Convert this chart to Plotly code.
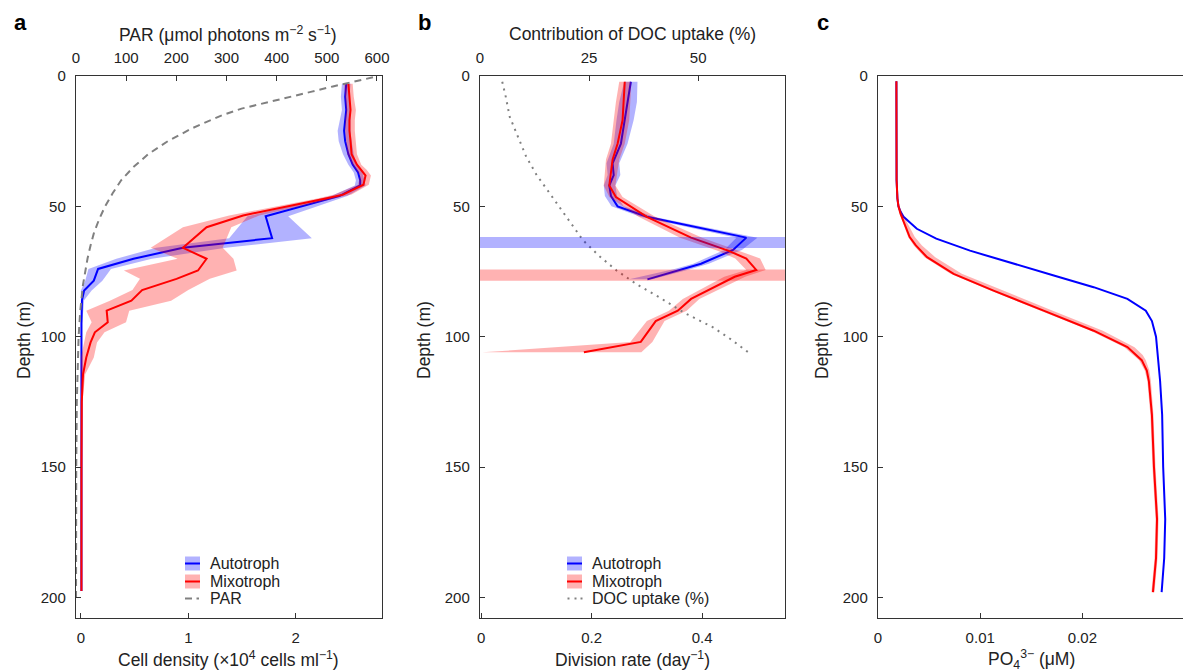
import plotly.graph_objects as go

W, H = 1183, 672
FONT = "Liberation Sans"
TXT = "#222222"
AX = "#333333"
BLUE = "rgb(0,0,255)"
RED = "rgb(255,0,0)"
BLUE_BAND = "rgba(0,0,255,0.30)"
RED_BAND = "rgba(255,0,0,0.30)"
GRAY = "#808080"

# ---------------- Panel a: cell density and PAR ----------------
depth_a_auto = [3, 8, 13, 17, 21, 25, 30, 34, 37, 40, 42, 46, 53.8, 62.2, 65.9, 70.1, 74, 78.5,
                82.3, 86, 95, 110, 130, 150, 170, 190, 197.5]
cell_auto = [2.47, 2.46, 2.47, 2.46, 2.45, 2.46, 2.49, 2.53, 2.58, 2.60, 2.60, 2.41, 1.72, 1.78,
             0.95, 0.49, 0.16, 0.12, 0.03, 0.01, 0.005, 0.005, 0.005, 0.005, 0.005, 0.005, 0.005]
cell_auto_lo = [2.43, 2.42, 2.43, 2.41, 2.39, 2.40, 2.44, 2.49, 2.54, 2.56, 2.55, 2.33, 1.55, 1.38,
                0.70, 0.33, 0.07, 0.04, 0.0, 0.0, 0, 0, 0, 0, 0, 0, 0]
cell_auto_hi = [2.51, 2.50, 2.51, 2.51, 2.51, 2.52, 2.54, 2.57, 2.62, 2.64, 2.65, 2.48, 1.93, 2.15,
                1.35, 0.66, 0.28, 0.20, 0.10, 0.03, 0.012, 0.01, 0.01, 0.01, 0.01, 0.01, 0.01]

depth_a_mixo = [3, 8, 13, 17, 21, 25, 30, 34, 36, 38.2, 41.7, 45.5, 47, 53.5, 58, 65.9, 70.1, 74.6,
                77.8, 82.1, 86.2, 90, 94.5, 98.3, 102.2, 108, 114.4, 125, 150, 175, 197.5]
cell_mixo = [2.49, 2.50, 2.51, 2.50, 2.50, 2.51, 2.52, 2.57, 2.61, 2.65, 2.63, 2.44, 2.28, 1.51, 1.17,
             0.95, 1.17, 1.09, 0.89, 0.57, 0.47, 0.24, 0.25, 0.13, 0.09, 0.05, 0.02, 0.008, 0.005,
             0.005, 0.005]
cell_mixo_lo = [2.45, 2.46, 2.47, 2.46, 2.46, 2.47, 2.48, 2.53, 2.56, 2.60, 2.58, 2.36, 2.20, 1.38,
                0.95, 0.65, 0.90, 0.40, 0.55, 0.48, 0.27, 0.05, 0.10, 0.05, 0.03, 0.0, 0.0, 0.0,
                0.0, 0.0, 0.0]
cell_mixo_hi = [2.53, 2.54, 2.56, 2.55, 2.55, 2.56, 2.57, 2.61, 2.66, 2.70, 2.68, 2.52, 2.36, 1.66,
                1.40, 1.32, 1.42, 1.45, 1.20, 1.00, 0.84, 0.45, 0.42, 0.22, 0.15, 0.12, 0.04, 0.015,
                0.01, 0.01, 0.01]

depth_par = [0.5, 2, 4, 6, 8, 10, 12.5, 15, 17.5, 20, 25, 30, 35, 40, 45, 50, 55, 60, 65, 70, 80,
             90, 100, 110, 125, 150, 175, 200]
par = [592, 555, 512, 470, 428, 380, 330, 292, 262, 232, 183, 144, 114, 90, 73, 58, 46, 36, 29, 23,
       14, 8.5, 5.2, 3.2, 1.6, 0.5, 0.2, 0.05]

# ---------------- Panel b: division rate and DOC uptake ----------------
depth_b_auto = [2.2, 10, 17, 26, 33.5, 38, 42, 46, 50, 54, 62, 66.7, 72, 74, 78]
div_auto = [0.271, 0.265, 0.259, 0.253, 0.238, 0.240, 0.232, 0.235, 0.247, 0.300, 0.480, 0.456,
            0.398, 0.365, 0.301]
div_auto_lo = [0.259, 0.250, 0.245, 0.240, 0.227, 0.229, 0.222, 0.224, 0.236, 0.288, 0.462, 0.440,
               0.384, 0.350, 0.268]
div_auto_hi = [0.283, 0.282, 0.276, 0.265, 0.250, 0.252, 0.243, 0.246, 0.258, 0.312, 0.500, 0.472,
               0.412, 0.380, 0.310]

depth_b_mixo = [2.2, 10, 17, 26, 32, 42, 46.4, 54, 62, 67, 70, 74.4, 77, 85.5, 90, 94, 102, 106]
div_mixo = [0.260, 0.258, 0.256, 0.247, 0.238, 0.232, 0.244, 0.300, 0.380, 0.447, 0.480, 0.498,
            0.459, 0.380, 0.356, 0.316, 0.289, 0.186]
div_mixo_lo = [0.250, 0.244, 0.240, 0.235, 0.226, 0.222, 0.232, 0.285, 0.360, 0.428, 0.460, 0.480,
               0.440, 0.365, 0.340, 0.300, 0.270, 0.002]
div_mixo_hi = [0.272, 0.270, 0.268, 0.260, 0.250, 0.243, 0.256, 0.315, 0.400, 0.466, 0.505, 0.515,
               0.478, 0.395, 0.372, 0.332, 0.310, 0.290]

depth_doc = [2.2, 7.9, 15.6, 23.3, 31, 38, 45, 54, 63, 69, 74.6, 80, 85, 91, 96.4, 101, 106]
doc_uptake = [5.1, 5.9, 6.8, 8.7, 10.6, 13.0, 16.0, 19.8, 23.6, 27.3, 31.3, 36.0, 41.2, 47.0,
              53.4, 57.5, 61.5]

peak_band_auto = [61.8, 66.0]
peak_band_mixo = [74.2, 78.5]

# ---------------- Panel c: phosphate ----------------
depth_c_auto = [2, 20, 40, 47, 50, 52, 54, 58.6, 62.4, 67, 71.4, 76.5, 81, 85.5, 90, 94, 100, 104,
                117, 130, 150, 170, 185, 198]
po4_auto = [0.0018, 0.0018, 0.00182, 0.0019, 0.0020, 0.0022, 0.0025, 0.0038, 0.0057, 0.0090,
            0.0129, 0.0172, 0.0211, 0.0244, 0.0262, 0.0268, 0.0272, 0.0273, 0.0276, 0.0278,
            0.0279, 0.0281, 0.0280, 0.02775]

depth_c_mixo = [2, 20, 40, 47, 50, 52.8, 57, 61.8, 65, 69.5, 75.9, 82.3, 90, 97.7, 104, 107, 109,
                113, 117, 130, 150, 170, 185, 198]
po4_mixo = [0.0018, 0.0018, 0.00182, 0.0019, 0.0020, 0.0022, 0.0026, 0.0031, 0.0037, 0.0048,
            0.0074, 0.0113, 0.0162, 0.0211, 0.0244, 0.0253, 0.0258, 0.0263, 0.0265, 0.0268,
            0.0270, 0.0273, 0.0272, 0.0269]
po4_mixo_lo = [0.00175, 0.00175, 0.00177, 0.00185, 0.00195, 0.00212, 0.00250, 0.00295, 0.00350,
               0.00455, 0.00710, 0.01100, 0.01590, 0.02080, 0.02410, 0.02500, 0.02555, 0.02610,
               0.02635, 0.02665, 0.02685, 0.02715, 0.02705, 0.02675]
po4_mixo_hi = [0.00185, 0.00185, 0.00187, 0.00197, 0.00212, 0.00240, 0.00295, 0.00360, 0.00430,
               0.00560, 0.00820, 0.01220, 0.01710, 0.02200, 0.02510, 0.02590, 0.02620, 0.02655,
               0.02670, 0.02695, 0.02715, 0.02745, 0.02735, 0.02705]

depth_ticks = [0, 50, 100, 150, 200]

fig = go.Figure()


def band(lo, hi, depth, color, xa, ya):
    fig.add_trace(go.Scatter(
        x=list(lo) + list(hi)[::-1], y=list(depth) + list(depth)[::-1],
        fill="toself", fillcolor=color, mode="lines", line=dict(width=0, color=color),
        hoverinfo="skip", showlegend=False, xaxis=xa, yaxis=ya))


def line(x, y, color, xa, ya, width=2, dash=None):
    fig.add_trace(go.Scatter(
        x=x, y=y, mode="lines", line=dict(color=color, width=width, dash=dash),
        showlegend=False, xaxis=xa, yaxis=ya))


# panel a
band(cell_auto_lo, cell_auto_hi, depth_a_auto, BLUE_BAND, "x", "y")
line(cell_auto, depth_a_auto, BLUE, "x", "y")
band(cell_mixo_lo, cell_mixo_hi, depth_a_mixo, RED_BAND, "x", "y")
line(cell_mixo, depth_a_mixo, RED, "x", "y")
line(par, depth_par, GRAY, "x2", "y", width=2, dash="7px,5px")

# panel b
band(div_auto_lo, div_auto_hi, depth_b_auto, BLUE_BAND, "x3", "y2")
line(div_auto, depth_b_auto, BLUE, "x3", "y2")
band(div_mixo_lo, div_mixo_hi, depth_b_mixo, RED_BAND, "x3", "y2")
line(div_mixo, depth_b_mixo, RED, "x3", "y2")
line(doc_uptake, depth_doc, GRAY, "x4", "y2", width=2, dash="2px,5px")

# panel c
line(po4_auto, depth_c_auto, BLUE, "x5", "y3")
band(po4_mixo_lo, po4_mixo_hi, depth_c_mixo, RED_BAND, "x5", "y3")
line(po4_mixo, depth_c_mixo, RED, "x5", "y3")


def px(x):
    return x / W


def py(y):
    return 1 - y / H


tickfont = dict(family=FONT, size=15, color=TXT)
common = dict(showgrid=False, zeroline=False, showline=True, linecolor=AX, linewidth=1.4,
              ticks="inside", ticklen=5, tickwidth=1.3, tickcolor=AX, tickfont=tickfont,
              ticklabelstandoff=6, automargin=False)
ydom = [py(618), py(76)]

fig.update_layout(
    template="none",
    width=W, height=H, margin=dict(l=0, r=0, t=0, b=0, pad=0, autoexpand=False),
    paper_bgcolor="white", plot_bgcolor="white", showlegend=False,
    font=dict(family=FONT, color=TXT),
    xaxis=dict(domain=[px(76), px(382)], anchor="y", range=[-0.0456, 2.803],
               tickvals=[0, 1, 2], **common),
    xaxis2=dict(overlaying="x", side="top", anchor="y", range=[0, 610],
                tickvals=[0, 100, 200, 300, 400, 500, 600], **common),
    yaxis=dict(domain=ydom, anchor="x", range=[207.9, 0], tickvals=depth_ticks, mirror=True,
               **common),
    xaxis3=dict(domain=[px(480), px(785)], anchor="y2", range=[-0.002, 0.55],
                tickvals=[0, 0.2, 0.4], ticktext=["0", "0.2", "0.4"], **common),
    xaxis4=dict(overlaying="x3", side="top", anchor="y2", range=[0, 69.9],
                tickvals=[0, 25, 50], **common),
    yaxis2=dict(domain=ydom, anchor="x3", range=[207.9, 0], tickvals=depth_ticks, mirror=True,
                **common),
    xaxis5=dict(domain=[px(878), 1.0], anchor="y3", range=[0, 0.02984],
                tickvals=[0, 0.01, 0.02], ticktext=["0", "0.01", "0.02"], mirror=True, **common),
    yaxis3=dict(domain=ydom, anchor="x5", range=[207.9, 0], tickvals=depth_ticks, **common),
)

shapes = []
# horizontal peak bands in panel b (drawn above the lines)
for (d0, d1), col in ((peak_band_auto, BLUE_BAND), (peak_band_mixo, RED_BAND)):
    shapes.append(dict(type="rect", xref="x3 domain", yref="y2", x0=0, x1=1, y0=d0, y1=d1,
                       fillcolor=col, line=dict(width=0), layer="above"))


# legends (drawn by hand to match the compact style)
def legend_patch(x0, yc, fill, col):
    shapes.append(dict(type="rect", xref="paper", yref="paper", x0=px(x0), x1=px(x0 + 15),
                       y0=py(yc + 7), y1=py(yc - 7), fillcolor=fill, line=dict(width=0)))
    shapes.append(dict(type="line", xref="paper", yref="paper", x0=px(x0), x1=px(x0 + 15),
                       y0=py(yc), y1=py(yc), line=dict(color=col, width=2)))


legend_patch(185, 563.5, BLUE_BAND, BLUE)
legend_patch(185, 581.5, RED_BAND, RED)
shapes.append(dict(type="line", xref="paper", yref="paper", x0=px(185), x1=px(192),
                   y0=py(598.5), y1=py(598.5), line=dict(color=GRAY, width=2)))
shapes.append(dict(type="line", xref="paper", yref="paper", x0=px(196.5), x1=px(199),
                   y0=py(598.5), y1=py(598.5), line=dict(color=GRAY, width=2)))
legend_patch(567, 563.5, BLUE_BAND, BLUE)
legend_patch(567, 581.5, RED_BAND, RED)
for xd in (567.5, 574.5, 580.5):
    shapes.append(dict(type="line", xref="paper", yref="paper", x0=px(xd), x1=px(xd + 2),
                       y0=py(598.5), y1=py(598.5), line=dict(color=GRAY, width=2)))

fig.update_layout(shapes=shapes)

ann = []


def text(x, y, s, size=16, xanchor="center", bold=False, angle=0):
    ann.append(dict(x=px(x), y=py(y), xref="paper", yref="paper", text=s, showarrow=False,
                    xanchor=xanchor, yanchor="middle", textangle=angle,
                    font=dict(family=FONT, size=size, color="#000" if bold else TXT)))


text(20, 23, "<b>a</b>", size=22, bold=True)
text(424, 23, "<b>b</b>", size=22, bold=True)
text(823, 23, "<b>c</b>", size=22, bold=True)

TS = 17.5
text(228, 34, "PAR (μmol photons m<sup>−2</sup> s<sup>−1</sup>)", size=TS)
text(632, 34, "Contribution of DOC uptake (%)", size=TS)
text(228, 659, "Cell density (×10<sup>4</sup> cells ml<sup>−1</sup>)", size=TS)
text(632, 659, "Division rate (day<sup>−1</sup>)", size=TS)
text(1031, 659, "PO<sub>4</sub><sup>3−</sup> (μM)", size=TS)
for xx in (24, 424, 822):
    text(xx, 340, "Depth (m)", size=TS, angle=-90)

for y, s in ((563.5, "Autotroph"), (581.5, "Mixotroph"), (598.5, "PAR")):
    text(208, y, s, xanchor="left")
for y, s in ((563.5, "Autotroph"), (581.5, "Mixotroph"), (598.5, "DOC uptake (%)")):
    text(590, y, s, xanchor="left")

fig.update_layout(annotations=ann)

fig.write_html("out.html", config={"displayModeBar": False},
               post_script="document.body.style.margin='0';document.body.style.overflow='hidden';")
